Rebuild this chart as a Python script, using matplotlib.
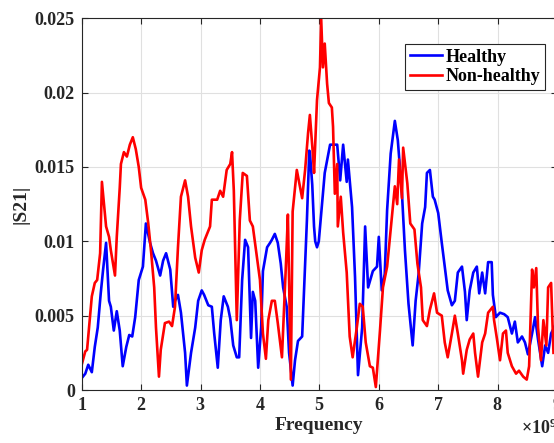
import numpy as np
import matplotlib
matplotlib.use("Agg")
import matplotlib.pyplot as plt
from matplotlib.ticker import ScalarFormatter

# frequency in GHz, |S21|
healthy_f = [1.00, 1.06, 1.11, 1.17, 1.22, 1.27, 1.32, 1.36, 1.41, 1.46, 1.49, 1.54, 1.59, 1.64,
             1.69, 1.75, 1.80, 1.85, 1.90, 1.96, 2.03, 2.08, 2.15, 2.20, 2.25, 2.32, 2.37, 2.42,
             2.49, 2.54, 2.57, 2.62, 2.67, 2.74, 2.77, 2.84, 2.91, 2.96, 3.02, 3.06, 3.13, 3.19,
             3.23, 3.29, 3.34, 3.39, 3.46, 3.50, 3.55, 3.61, 3.65, 3.70, 3.75, 3.80, 3.85, 3.88,
             3.92, 3.97, 4.02, 4.05, 4.12, 4.17, 4.20, 4.25, 4.30, 4.35, 4.39, 4.45, 4.49, 4.55,
             4.59, 4.64, 4.71, 4.74, 4.79, 4.83, 4.84, 4.88, 4.91, 4.93, 4.96, 4.99, 5.09, 5.18,
             5.30, 5.35, 5.40, 5.46, 5.48, 5.55, 5.60, 5.65, 5.72, 5.77, 5.82, 5.90, 5.97, 6.00,
             6.05, 6.10, 6.14, 6.20, 6.27, 6.32, 6.39, 6.44, 6.50, 6.57, 6.62, 6.67, 6.73, 6.78,
             6.81, 6.86, 6.91, 6.94, 7.00, 7.06, 7.11, 7.16, 7.23, 7.28, 7.33, 7.40, 7.45, 7.48,
             7.53, 7.59, 7.65, 7.69, 7.74, 7.79, 7.84, 7.90, 7.92, 7.97, 8.04, 8.11, 8.17, 8.24,
             8.29, 8.34, 8.41, 8.46, 8.51, 8.58, 8.63, 8.68, 8.75, 8.80, 8.85, 8.90, 8.96]
healthy_s21 = [0.0008, 0.0011, 0.0017, 0.0012, 0.0029, 0.0042, 0.0065, 0.0081, 0.0099, 0.0060,
               0.0056, 0.0040, 0.0053, 0.0040, 0.0016, 0.0029, 0.0037, 0.0036, 0.0049, 0.0074,
               0.0083, 0.0112, 0.0099, 0.0092, 0.0087, 0.0077, 0.0087, 0.0092, 0.0081, 0.0056,
               0.0060, 0.0064, 0.0052, 0.0025, 0.0003, 0.0025, 0.0042, 0.0060, 0.0067, 0.0064,
               0.0057, 0.0056, 0.0038, 0.0015, 0.0047, 0.0063, 0.0056, 0.0048, 0.0030, 0.0022,
               0.0022, 0.0074, 0.0101, 0.0096, 0.0035, 0.0066, 0.0060, 0.0015, 0.0042, 0.0080,
               0.0096, 0.0099, 0.0101, 0.0105, 0.0099, 0.0085, 0.0069, 0.0056, 0.0025, 0.0003,
               0.0020, 0.0033, 0.0036, 0.0065, 0.0114, 0.0161, 0.0160, 0.0138, 0.0110, 0.0100,
               0.0096, 0.0100, 0.0146, 0.0165, 0.0165, 0.0141, 0.0165, 0.0140, 0.0155, 0.0123,
               0.0076, 0.0010, 0.0042, 0.0110, 0.0069, 0.0080, 0.0083, 0.0103, 0.0067, 0.0078,
               0.0121, 0.0159, 0.0181, 0.0168, 0.0132, 0.0094, 0.0058, 0.0030, 0.0060, 0.0078,
               0.0112, 0.0123, 0.0146, 0.0148, 0.0130, 0.0128, 0.0119, 0.0099, 0.0083, 0.0067,
               0.0057, 0.0060, 0.0079, 0.0083, 0.0066, 0.0047, 0.0067, 0.0079, 0.0083, 0.0065,
               0.0079, 0.0065, 0.0086, 0.0086, 0.0064, 0.0049, 0.0052, 0.0051, 0.0049, 0.0038,
               0.0046, 0.0032, 0.0036, 0.0032, 0.0024, 0.0038, 0.0049, 0.0034, 0.0016, 0.0030,
               0.0025, 0.0038, 0.0043]

nonhealthy_f = [1.00, 1.06, 1.09, 1.14, 1.17, 1.22, 1.26, 1.31, 1.34, 1.38, 1.41, 1.46, 1.49,
                1.56, 1.59, 1.64, 1.66, 1.71, 1.76, 1.81, 1.86, 1.91, 1.96, 2.00, 2.07, 2.12,
                2.17, 2.22, 2.25, 2.30, 2.33, 2.40, 2.47, 2.52, 2.57, 2.62, 2.67, 2.74, 2.79,
                2.84, 2.91, 2.97, 3.02, 3.07, 3.16, 3.19, 3.28, 3.33, 3.38, 3.44, 3.50, 3.53,
                3.56, 3.61, 3.66, 3.71, 3.78, 3.83, 3.88, 3.95, 4.00, 4.05, 4.10, 4.14, 4.20,
                4.25, 4.30, 4.37, 4.44, 4.47, 4.52, 4.55, 4.62, 4.71, 4.76, 4.81, 4.84, 4.89,
                4.91, 4.96, 5.01, 5.03, 5.06, 5.09, 5.13, 5.16, 5.21, 5.23, 5.26, 5.30, 5.31,
                5.36, 5.40, 5.46, 5.51, 5.56, 5.63, 5.68, 5.73, 5.78, 5.85, 5.90, 5.95, 6.02,
                6.07, 6.14, 6.20, 6.27, 6.31, 6.34, 6.39, 6.41, 6.48, 6.53, 6.60, 6.65, 6.71,
                6.74, 6.81, 6.86, 6.93, 6.98, 7.06, 7.11, 7.16, 7.23, 7.28, 7.33, 7.40, 7.42,
                7.48, 7.53, 7.59, 7.62, 7.67, 7.74, 7.79, 7.84, 7.92, 7.94, 7.99, 8.04, 8.09,
                8.14, 8.17, 8.24, 8.31, 8.36, 8.43, 8.49, 8.53, 8.58, 8.61, 8.65, 8.68, 8.73,
                8.77, 8.82, 8.85, 8.90, 8.94]
nonhealthy_s21 = [0.0017, 0.0026, 0.0027, 0.0049, 0.0063, 0.0072, 0.0074, 0.0092, 0.0140,
                  0.0123, 0.0110, 0.0103, 0.0094, 0.0077, 0.0103, 0.0136, 0.0152, 0.0160,
                  0.0157, 0.0165, 0.0170, 0.0162, 0.0150, 0.0136, 0.0128, 0.0112, 0.0092,
                  0.0069, 0.0042, 0.0009, 0.0027, 0.0045, 0.0046, 0.0043, 0.0056, 0.0096,
                  0.0130, 0.0141, 0.0130, 0.0110, 0.0089, 0.0079, 0.0094, 0.0101, 0.0110,
                  0.0128, 0.0128, 0.0134, 0.0130, 0.0148, 0.0152, 0.0160, 0.0134, 0.0047,
                  0.0114, 0.0146, 0.0144, 0.0114, 0.0110, 0.0089, 0.0074, 0.0038, 0.0021,
                  0.0047, 0.0060, 0.0060, 0.0045, 0.0022, 0.0087, 0.0118, 0.0007, 0.0120,
                  0.0148, 0.0129, 0.0148, 0.0173, 0.0185, 0.0159, 0.0146, 0.0195, 0.0217,
                  0.0250, 0.0217, 0.0233, 0.0206, 0.0193, 0.0190, 0.0177, 0.0132, 0.0152,
                  0.0110, 0.0130, 0.0106, 0.0079, 0.0036, 0.0022, 0.0042, 0.0058, 0.0056,
                  0.0032, 0.0016, 0.0015, 0.0002, 0.0040, 0.0069, 0.0083, 0.0108, 0.0137,
                  0.0125, 0.0155, 0.0129, 0.0163, 0.0139, 0.0112, 0.0108, 0.0085, 0.0069,
                  0.0047, 0.0043, 0.0054, 0.0065, 0.0052, 0.0050, 0.0032, 0.0022, 0.0038,
                  0.0050, 0.0038, 0.0020, 0.0011, 0.0027, 0.0034, 0.0038, 0.0025, 0.0009,
                  0.0032, 0.0038, 0.0052, 0.0056, 0.0047, 0.0034, 0.0020, 0.0038, 0.0040,
                  0.0025, 0.0016, 0.0011, 0.0013, 0.0009, 0.0007, 0.0016, 0.0081, 0.0069,
                  0.0082, 0.0042, 0.0020, 0.0047, 0.0030, 0.0069, 0.0072, 0.0025]

x_ticks = [1, 2, 3, 4, 5, 6, 7, 8, 9]
y_ticks = [0, 0.005, 0.01, 0.015, 0.02, 0.025]
y_tick_labels = ["0", "0.005", "0.01", "0.015", "0.02", "0.025"]

plt.rcParams['font.family'] = ['Liberation Serif', 'DejaVu Serif']
plt.rcParams['font.weight'] = 'bold'
plt.rcParams['mathtext.fontset'] = 'custom'
plt.rcParams['mathtext.rm'] = 'Liberation Serif:bold'
plt.rcParams['mathtext.bf'] = 'Liberation Serif:bold'

fig = plt.figure(figsize=(5.54, 4.43), dpi=100)
ax = fig.add_axes([0.1475, 0.1196, 0.858, 0.8391])

ax.plot(np.array(healthy_f) * 1e9, healthy_s21, color='#0000ff', lw=1.9, label='Healthy')
ax.plot(np.array(nonhealthy_f) * 1e9, nonhealthy_s21, color='#ff0000', lw=1.9, label='Non-healthy')

ax.set_xlim(1e9, 9e9)
ax.set_ylim(0, 0.025)
ax.set_xticks(np.array(x_ticks) * 1e9)
ax.set_yticks(y_ticks)
ax.set_yticklabels(y_tick_labels)
fmt = ScalarFormatter(useMathText=True)
ax.xaxis.set_major_formatter(fmt)

ax.grid(True, color='#e0e0e0', lw=0.8)
ax.set_axisbelow(True)
ax.tick_params(direction='in', length=4, width=0.8, top=True, right=True,
               labelsize=13, colors='#262626', labelcolor='#262626', pad=5)
for sp in ax.spines.values():
    sp.set_color('#262626')
    sp.set_linewidth(0.8)
ax.xaxis.get_offset_text().set_fontsize(13)

ax.set_xlabel('Frequency', fontsize=14, fontweight='bold', color='#262626', labelpad=2)
ax.set_ylabel('|S21|', fontsize=14, fontweight='bold', color='#262626', labelpad=4)

leg = ax.legend(loc='upper right', bbox_to_anchor=(545 / 554, 1 - 44 / 443),
                bbox_transform=fig.transFigure, fontsize=13, fancybox=False,
                edgecolor='#262626', framealpha=1, handlelength=1.8, handletextpad=0.2,
                labelspacing=0.15, borderpad=0.25, borderaxespad=0)
leg.get_frame().set_linewidth(0.8)
for t in leg.get_texts():
    t.set_fontweight('bold')

fig.savefig('out.png', dpi=100)
